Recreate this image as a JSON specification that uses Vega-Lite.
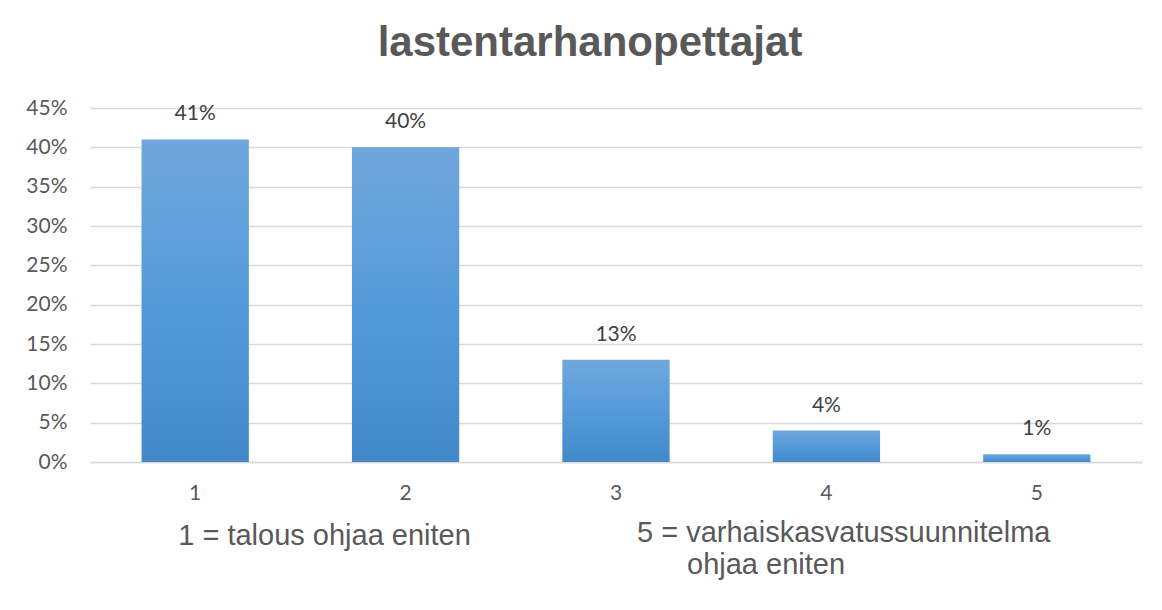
{
  "$schema": "https://vega.github.io/schema/vega-lite/v6.json",
  "width": 1052,
  "height": 354,
  "autosize": {"type": "none"},
  "padding": {"left": 90, "top": 108, "right": 20, "bottom": 148},
  "background": "white",
  "title": {
    "text": "lastentarhanopettajat",
    "font": "Liberation Sans",
    "fontSize": 42,
    "fontWeight": "bold",
    "color": "#595959",
    "anchor": "middle",
    "frame": "group",
    "dx": -26,
    "offset": 32
  },
  "config": {
    "view": {"stroke": null},
    "axis": {
      "labelFont": "Lato",
      "labelFontSize": 21,
      "labelColor": "#595959",
      "labelOverlap": false,
      "ticks": false,
      "title": null
    }
  },
  "layer": [
    {
      "data": {"values": [
        {"cat": "1", "share": 0.41},
        {"cat": "2", "share": 0.40},
        {"cat": "3", "share": 0.13},
        {"cat": "4", "share": 0.04},
        {"cat": "5", "share": 0.01}
      ]},
      "encoding": {
        "x": {
          "field": "cat", "type": "nominal",
          "scale": {"domain": ["1", "2", "3", "4", "5"], "paddingInner": 0.49, "paddingOuter": 0.245},
          "axis": {
            "labelAngle": 0,
            "labelPadding": 20,
            "domain": true,
            "domainColor": "#d9d9d9",
            "domainWidth": 1.5
          }
        },
        "y": {
          "field": "share", "type": "quantitative",
          "scale": {"domain": [0, 0.45]},
          "axis": {
            "format": ".0%",
            "values": [0, 0.05, 0.1, 0.15, 0.2, 0.25, 0.3, 0.35, 0.4, 0.45],
            "tickCount": 10,
            "domain": false,
            "grid": true,
            "gridColor": "#d9d9d9",
            "gridWidth": 1.4,
            "labelPadding": 23
          }
        }
      },
      "layer": [
        {
          "mark": {
            "type": "bar",
            "color": {
              "gradient": "linear",
              "x1": 0, "y1": 0, "x2": 0, "y2": 1,
              "stops": [
                {"offset": 0, "color": "#70a7dc"},
                {"offset": 0.5, "color": "#559ada"},
                {"offset": 1, "color": "#4388c8"}
              ]
            }
          }
        },
        {
          "mark": {
            "type": "text",
            "font": "Lato",
            "fontSize": 21,
            "color": "#404040",
            "baseline": "alphabetic",
            "dy": -19
          },
          "encoding": {
            "text": {"field": "share", "type": "quantitative", "format": ".0%"}
          }
        }
      ]
    },
    {
      "data": {"values": [{"cat": "1", "note": "1 = talous ohjaa eniten"}]},
      "mark": {
        "type": "text", "font": "Liberation Sans", "fontSize": 29,
        "color": "#595959", "align": "left", "baseline": "alphabetic",
        "dx": -17, "dy": 83
      },
      "encoding": {
        "x": {"field": "cat", "type": "nominal"},
        "y": {"datum": 0, "type": "quantitative"},
        "text": {"field": "note"}
      }
    },
    {
      "data": {"values": [{"cat": "3", "note": "5 = varhaiskasvatussuunnitelma"}]},
      "mark": {
        "type": "text", "font": "Liberation Sans", "fontSize": 29,
        "color": "#595959", "align": "left", "baseline": "alphabetic",
        "dx": 21, "dy": 80
      },
      "encoding": {
        "x": {"field": "cat", "type": "nominal"},
        "y": {"datum": 0, "type": "quantitative"},
        "text": {"field": "note"}
      }
    },
    {
      "data": {"values": [{"cat": "3", "note": "ohjaa eniten"}]},
      "mark": {
        "type": "text", "font": "Liberation Sans", "fontSize": 29,
        "color": "#595959", "align": "left", "baseline": "alphabetic",
        "dx": 71, "dy": 112
      },
      "encoding": {
        "x": {"field": "cat", "type": "nominal"},
        "y": {"datum": 0, "type": "quantitative"},
        "text": {"field": "note"}
      }
    }
  ]
}
